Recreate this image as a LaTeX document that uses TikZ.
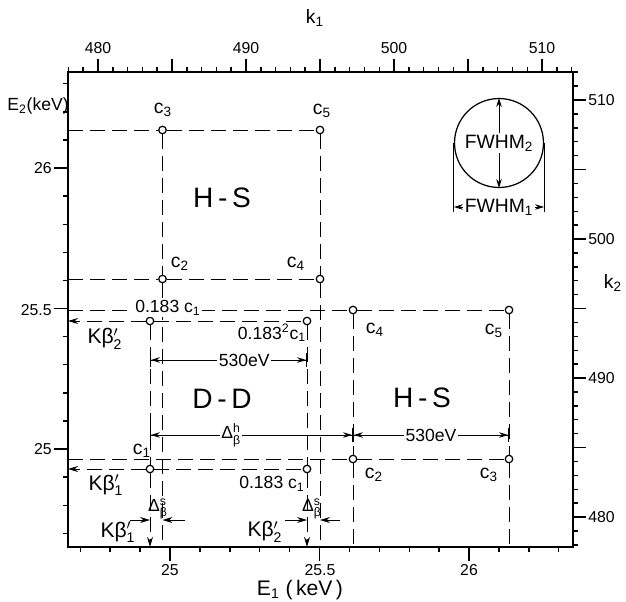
\documentclass[tikz,border=0pt]{standalone}
\usepackage{amsmath}
\usepackage{fontspec}
\setmainfont{Liberation Sans}
\usetikzlibrary{arrows.meta}

\newcommand{\kbeta}[1]{Kβ$'_{\text{#1}}$}
\newcommand{\dbeta}[1]{Δ$^{\text{#1}}_{\text{β}}$}
\newcommand{\csub}[1]{c\textsubscript{#1}}

\begin{document}
\begin{tikzpicture}[
  x=0.02cm, y=-0.02cm,
  font=\fontsize{10}{12}\selectfont,
  cadre/.style={draw, line width=0.9pt, inner sep=0pt, outer sep=0pt,
    minimum width=10.1cm, minimum height=9.5cm},
  graduation/.style={line width=0.8pt},
  num/.style={font=\fontsize{9}{10}\selectfont, inner sep=0pt},
  titre/.style={font=\fontsize{11}{12}\selectfont, inner sep=0pt},
  guide/.style={line width=0.5pt, dash pattern=on 3mm off 1.4mm},
  pt/.style={circle, draw, line width=0.7pt, fill=white, inner sep=0pt,
    minimum size=0.15cm},
  lbl/.style={font=\fontsize{11}{12}\selectfont, inner sep=1pt},
  petit/.style={font=\fontsize{10}{12}\selectfont, inner sep=1pt},
  kb/.style={font=\fontsize{12}{14}\selectfont, inner sep=0pt},
  zone/.style={font=\fontsize{16}{18}\selectfont, inner sep=0pt},
  dim/.style={line width=0.5pt,
    {Bar[width=2.8mm]Stealth[length=1.8mm, width=1.1mm]}-{Stealth[length=1.8mm, width=1.1mm]Bar[width=2.8mm]}},
  cote/.style={line width=0.5pt,
    {Stealth[length=1.8mm, width=1.1mm]}-{Stealth[length=1.8mm, width=1.1mm]}},
  fleche/.style={-{Stealth[length=2mm, width=1.2mm]}}
]
\useasboundingbox (0,0) rectangle (626,602);

% ----- cadre et graduations -----
\node[cadre] (box) at (320.5,309.5) {};

\foreach \i in {0,...,16}{
  \pgfmathsetmacro{\tlen}{mod(\i,5)==3 ? 14 : 5}
  \draw[graduation] ({80.3+\i*29.9},547) -- ++(0,\tlen);   % E1
  \draw[graduation] (68,{533.3-\i*28.1}) -- ++(-\tlen,0);  % E2
}
\foreach \k in {478,...,512}{
  \pgfmathsetmacro{\tlen}{mod(\k,5)==0 ? 13 : 5}
  \draw[graduation] ({98+(\k-480)*14.8},72) -- ++(0,-\tlen);   % k1
  \draw[graduation] (573,{517-(\k-480)*13.9}) -- ++(\tlen,0);  % k2
}

\foreach \v/\x in {480/98, 490/246, 500/394, 510/542}
  \node[num] (haut\v) at (\x,48) {\v};
\foreach \v/\y in {510/100, 500/239, 490/378, 480/517}
  \node[num, anchor=west] (droite\v) at (588,\y) {\v};
\foreach \v/\x/\n in {25/170/a, 25.5/320/b, 26/469/c}
  \node[num] (bas\n) at (\x,570) {\v};
\foreach \v/\y/\n in {26/168/a, 25.5/310/b, 25/449/c}
  \node[num, anchor=east] (gauche\n) at (52,\y) {\v};

\node[titre] (k1) at (315,18) {k\textsubscript{1}};
\node[titre] (k2) at (613,283) {k\textsubscript{2}};
\node[titre, font=\fontsize{10}{12}\selectfont] (E2) at (38,106) {E\textsubscript{2}(keV)};
\node[titre, font=\fontsize{12}{14}\selectfont] (E1) at (300,590) {E\textsubscript{1} (\,keV\,)};

% ----- points -----
\node[pt] (uc3) at (162.5,130) {};
\node[pt] (uc5) at (320,130) {};
\node[pt] (uc2) at (162.5,279) {};
\node[pt] (uc4) at (320,279) {};
\node[pt] (dd3) at (150,321) {};
\node[pt] (dd4) at (307,321) {};
\node[pt] (dd1) at (150,469) {};
\node[pt] (dd2) at (307,469) {};
\node[pt] (rc4) at (353,310) {};
\node[pt] (rc5) at (509,310) {};
\node[pt] (rc2) at (353,459) {};
\node[pt] (rc3) at (509,459) {};

% ----- lignes de construction -----
\draw[guide] (uc5 -| box.west) -- (uc3) -- (uc5);
\draw[guide] (uc4 -| box.west) -- (uc2) -- (uc4);
\draw[guide] (uc3) -- (uc2) -- (uc2 |- box.south);
\draw[guide] (uc5) -- (uc4) -- (uc4 |- box.south);
\draw[guide] (rc5 -| box.west) -- (rc4) -- (rc5);
\draw[guide] (rc3 -| box.west) -- (rc2) -- (rc3);
\draw[guide] (rc4) -- (rc2) -- (rc2 |- box.south);
\draw[guide] (rc5) -- (rc3) -- (rc3 |- box.south);
\draw[guide, fleche] (dd3) -- (dd3 -| box.west);
\draw[guide] (dd3) -- (dd4);
\draw[guide, fleche] (dd1) -- (dd1 -| box.west);
\draw[guide] (dd1) -- (dd2);
\draw[guide] (dd3) -- (dd1);
\draw[guide, fleche] (dd1) -- (dd1 |- box.south);
\draw[guide] (dd4) -- (dd2);
\draw[guide, fleche] (dd2) -- (dd2 |- box.south);

% ----- cotes -----
\coordinate (m1) at (dd3 |- 0,360);
\coordinate (m2) at (dd4 |- 0,360);
\draw[dim] (m1) -- node[petit, fill=white, pos=0.6] (ev1) {530eV} (m2);

\coordinate (h1) at (dd1 |- 0,435);
\coordinate (h2) at (rc2 |- 0,435);
\coordinate (h3) at (rc3 |- 0,435);
\draw[dim] (h1) -- node[petit, fill=white, pos=0.4, inner sep=0.5pt] (dh) {\dbeta{h}} (h2);
\draw[dim] (h2) -- node[petit, fill=white] (ev2) {530eV} (h3);

\coordinate (sa) at (130,520);
\coordinate (sb) at (185,520);
\coordinate (sc) at (285,520);
\coordinate (sd) at (340,520);
\draw[line width=0.5pt, fleche] (sa) -- (sa -| dd1);
\draw[line width=0.5pt, fleche] (sb) -- (sb -| uc2);
\draw[line width=0.5pt, fleche] (sc) -- (sc -| dd2);
\draw[line width=0.5pt, fleche] (sd) -- (sd -| uc4);

% ----- textes -----
\node[zone] (hs1) at (222,198) {H\,-\,S};
\node[zone] (ddz) at (222,399) {D\,-\,D};
\node[zone] (hs2) at (422,398) {H\,-\,S};

\node[lbl] (luc3) at (163,110) {\csub{3}};
\node[lbl] (luc5) at (322,111) {\csub{5}};
\node[lbl] (luc2) at (180,264) {\csub{2}};
\node[lbl] (luc4) at (296,264) {\csub{4}};

\node[petit, fill=white] (ldd3) at (168,308) {0.183 \csub{1}};
\node[petit] (ldd4) at (272,333) {0.183\textsuperscript{2}\csub{1}};
\node[kb] (kb2) at (105,339) {\kbeta{2}};

\node[lbl] (lrc4) at (375,330) {\csub{4}};
\node[lbl] (lrc5) at (494,331) {\csub{5}};

\node[lbl] (ldd1) at (142,451) {\csub{1}};
\node[kb] (kb1) at (106,485) {\kbeta{1}};
\node[petit] (ldd2) at (272,484) {0.183 \csub{1}};
\node[lbl] (lrc2) at (374,475) {\csub{2}};
\node[lbl] (lrc3) at (489,475) {\csub{3}};

\node[petit, inner sep=0pt] (ds1) at (158,509) {\dbeta{s}};
\node[petit, inner sep=0pt] (ds2) at (312,509) {\dbeta{s}};
\node[kb] (kb1b) at (118,532) {\kbeta{1}};
\node[kb] (kb2b) at (265,532) {\kbeta{2}};

% ----- FWHM -----
\node[circle, draw, line width=0.7pt, minimum size=1.78cm, inner sep=0pt] (fwhm) at (499,143) {};
\draw[cote] (fwhm.north) -- node[titre, fill=white, inner sep=1pt] (fw2) {FWHM\textsubscript{2}} (fwhm.south);
\coordinate (fa) at (fwhm.west |- 0,212);
\coordinate (fb) at (fwhm.east |- 0,212);
\draw[line width=0.5pt] (fwhm.west) -- (fa);
\draw[line width=0.5pt] (fwhm.east) -- (fb);
\coordinate (fc) at (fwhm.west |- 0,207);
\coordinate (fd) at (fwhm.east |- 0,207);
\draw[cote] (fc) -- node[titre, fill=white, inner sep=1pt] (fw1) {FWHM\textsubscript{1}} (fd);

\end{tikzpicture}
\end{document}
